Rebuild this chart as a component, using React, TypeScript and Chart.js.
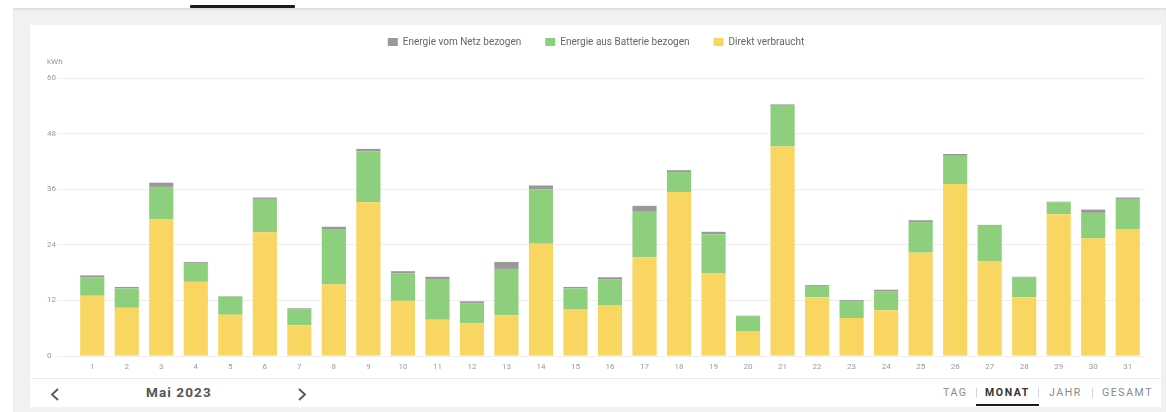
import React, { useEffect, useRef } from "react";
import { Chart, registerables } from "chart.js";

Chart.register(...registerables);

const days = Array.from({ length: 31 }, (_, i) => String(i + 1));
const direktVerbraucht = [13.0, 10.4, 29.5, 16.0, 8.9, 26.7, 6.6, 15.5, 33.2, 11.9, 7.8, 7.1, 8.8, 24.2, 10.0, 11.0, 21.3, 35.4, 17.8, 5.4, 45.2, 12.7, 8.2, 9.9, 22.3, 37.1, 20.4, 12.7, 30.6, 25.4, 27.4];
const ausBatterie = [4.0, 4.2, 7.0, 4.1, 3.9, 7.2, 3.5, 11.9, 11.0, 5.9, 8.8, 4.3, 10.0, 11.8, 4.6, 5.6, 10.0, 4.3, 8.5, 3.2, 8.8, 2.4, 3.7, 4.1, 6.6, 6.1, 7.7, 4.2, 2.6, 5.5, 6.5];
const vomNetz = [0.4, 0.3, 0.9, 0.2, 0.1, 0.3, 0.2, 0.5, 0.5, 0.5, 0.5, 0.4, 1.5, 0.8, 0.3, 0.4, 1.1, 0.4, 0.5, 0.1, 0.3, 0.2, 0.2, 0.3, 0.4, 0.4, 0.2, 0.2, 0.1, 0.7, 0.3];
const yTicks = [0, 12, 24, 36, 48, 60];
const unitLabel = "kWh";
const monthLabel = "Mai 2023";
const periodTabs = ["TAG", "MONAT", "JAHR", "GESAMT"];
const tabLefts = [943, 985, 1049, 1102];
const sepLefts = [976, 1038, 1092];

const FONT = "Roboto, 'Noto Sans', sans-serif";

const legendMargin = {
  id: "legendMargin",
  beforeInit(chart: any) {
    if (!chart.legend) return;
    const orig = chart.legend.fit;
    chart.legend.fit = function () {
      orig.bind(chart.legend)();
      this.height += 21;
    };
  },
};

const unitPlugin = {
  id: "unitLabel",
  afterDraw(chart: any) {
    const { ctx, chartArea } = chart;
    const yScale = chart.scales.y;
    ctx.save();
    ctx.font = `8px ${FONT}`;
    ctx.fillStyle = "#9a9a9a";
    ctx.textAlign = "left";
    ctx.textBaseline = "middle";
    ctx.fillText(unitLabel, yScale.left, chartArea.top - 16);
    ctx.restore();
  },
};

function Chevron({ dir }: { dir: "left" | "right" }) {
  const pts = dir === "left" ? "8,1 2,6.5 8,12" : "2,1 8,6.5 2,12";
  return (
    <svg width="10" height="13" viewBox="0 0 10 13">
      <polyline points={pts} fill="none" stroke="#555" strokeWidth="1.8" />
    </svg>
  );
}

export default function App() {
  const ref = useRef<HTMLCanvasElement | null>(null);

  useEffect(() => {
    if (!ref.current) return;
    const chart = new Chart(ref.current, {
      type: "bar",
      data: {
        labels: days,
        datasets: [
          { label: "Direkt verbraucht", data: direktVerbraucht, backgroundColor: "#f9d562" },
          { label: "Energie aus Batterie bezogen", data: ausBatterie, backgroundColor: "#8ecf7d" },
          { label: "Energie vom Netz bezogen", data: vomNetz, backgroundColor: "#999999" },
        ],
      },
      options: {
        animation: false,
        responsive: true,
        maintainAspectRatio: false,
        layout: { padding: { left: 17, right: 16, top: 0, bottom: 0 } },
        datasets: { bar: { barPercentage: 0.7, categoryPercentage: 1.0 } },
        plugins: {
          legend: {
            position: "top",
            reverse: true,
            labels: {
              boxWidth: 10,
              boxHeight: 8,
              padding: 24,
              color: "#666",
              font: { size: 10, family: FONT },
            },
          },
          tooltip: { enabled: false },
        },
        scales: {
          x: {
            stacked: true,
            grid: { display: false, drawTicks: false },
            border: { display: false },
            ticks: { color: "#9a9a9a", font: { size: 8, family: FONT }, padding: 6, maxRotation: 0, autoSkip: false },
            afterFit: (s: any) => { s.height = 22; },
          },
          y: {
            stacked: true,
            min: 0,
            max: 60,
            afterBuildTicks: (s: any) => { s.ticks = yTicks.map((v) => ({ value: v })); },
            grid: { color: "#eeeeee", drawTicks: true, tickLength: 18 },
            border: { display: false },
            ticks: { color: "#9a9a9a", font: { size: 8, family: FONT }, crossAlign: "far", padding: 0 },
            afterFit: (s: any) => { s.width = 28; },
          },
        },
      },
      plugins: [legendMargin, unitPlugin],
    });
    return () => chart.destroy();
  }, []);

  const abs = (s: React.CSSProperties): React.CSSProperties => ({ position: "absolute", ...s });

  return (
    <div style={{ position: "fixed", left: 0, top: 0, width: 1166, height: 412, background: "#fff", overflow: "hidden", fontFamily: FONT }}>
      <div style={abs({ left: 13, top: 8, width: 1153, height: 404, background: "#f1f1f1", boxShadow: "inset 0 2px 2px rgba(0,0,0,0.07)" })} />
      <div style={abs({ left: 190, top: 5, width: 105, height: 3, background: "#1b1b1b", borderRadius: 1 })} />
      <div style={abs({ left: 30, top: 25, width: 1131, height: 382, background: "#fff" })} />
      <div style={abs({ left: 30, top: 378, width: 1131, height: 1, background: "#ececec" })} />
      <div style={abs({ left: 30, top: 13, width: 1131, height: 365 })}>
        <canvas ref={ref} />
      </div>
      <div style={abs({ left: 50, top: 386 })}><Chevron dir="left" /></div>
      <div style={abs({ left: 146, top: 384, fontSize: 13.5, fontWeight: 700, color: "#555", letterSpacing: 1.1, lineHeight: "16px", whiteSpace: "nowrap" })}>{monthLabel}</div>
      <div style={abs({ left: 297, top: 386 })}><Chevron dir="right" /></div>
      {periodTabs.map((t, i) => (
        <div key={t} style={abs({ left: tabLefts[i], top: 386, fontSize: 10.5, letterSpacing: 1.6, lineHeight: "14px", whiteSpace: "nowrap", fontWeight: t === "MONAT" ? 700 : 400, color: t === "MONAT" ? "#333" : "#8a8a8a" })}>{t}</div>
      ))}
      {sepLefts.map((x) => (
        <div key={x} style={abs({ left: x, top: 388, width: 1, height: 10, background: "#d6d6d6" })} />
      ))}
      <div style={abs({ left: 976, top: 404, width: 63, height: 2, background: "#1b1b1b" })} />
    </div>
  );
}
